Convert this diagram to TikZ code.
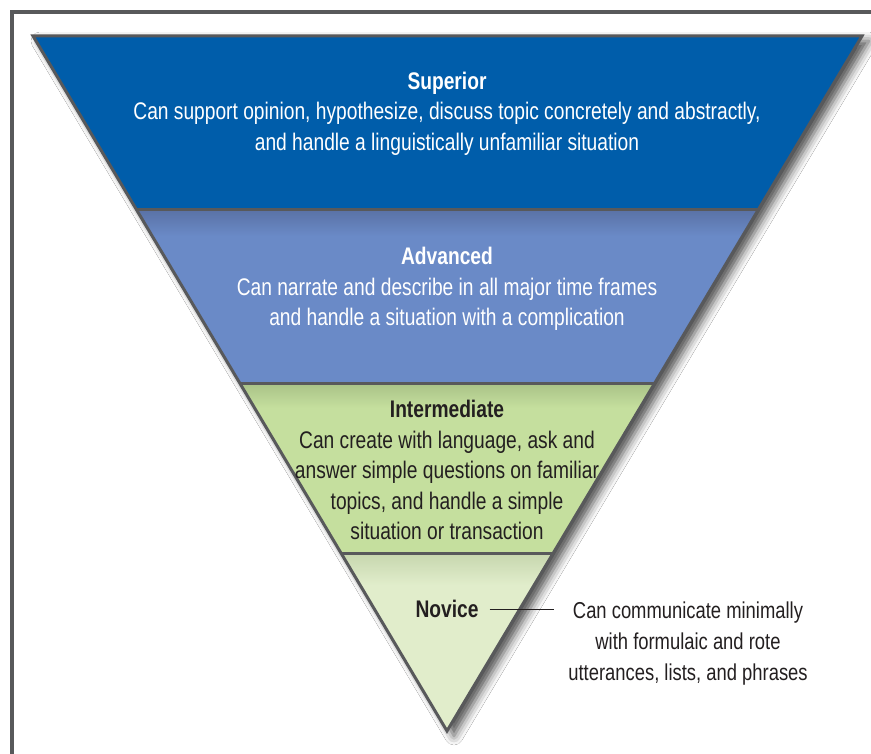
\documentclass[tikz,border=0pt]{standalone}
\usepackage{fontspec}
\setmainfont{Liberation Sans}[FakeStretch=0.8]
\usetikzlibrary{shadows.blur}
\definecolor{framegray}{HTML}{58595B}
\definecolor{supblue}{HTML}{005DAA}
\definecolor{advblue}{HTML}{6A8AC7}
\definecolor{advtop}{HTML}{5A72A6}
\definecolor{intgreen}{HTML}{C5DF9E}
\definecolor{inttop}{HTML}{A9C287}
\definecolor{novgreen}{HTML}{E1EDCB}
\definecolor{novtop}{HTML}{C6D6AE}
\definecolor{txtdark}{HTML}{231F20}
\tikzset{
  bandtext/.style={align=center, font=\fontsize{24}{30.5}\selectfont, inner sep=0pt},
  outline/.style={draw=framegray, line width=3pt, line join=miter},
  sep/.style={draw=framegray, line width=3pt},
  framestyle/.style={draw=framegray, line width=4pt},
}
\begin{document}
\begin{tikzpicture}[x=1pt,y=-1pt]
\useasboundingbox (0,0) rectangle (871,754);
\fill[white] (0,0) rectangle (871,754);
% frame (left and top)
\draw[framestyle] (12,754) -- (12,12) -- (871,12);
% corner coordinates
\coordinate (TL) at (33,36);
\coordinate (TR) at (862,36);
\coordinate (B) at (447,731);
\coordinate (L1) at (136.7,210); \coordinate (R1) at (757.6,210);
\coordinate (L2) at (240,383);   \coordinate (R2) at (654.3,383);
\coordinate (L3) at (341.2,553); \coordinate (R3) at (552.7,553);
% shadow
\fill[white, blur shadow={shadow xshift=7pt, shadow yshift=-5pt, shadow blur radius=9pt, shadow opacity=70}] (TL) -- (TR) -- (B) -- cycle;
% bands
\fill[supblue] (TL) -- (TR) -- (R1) -- (L1) -- cycle;
\begin{scope}
  \clip (L1) -- (R1) -- (R2) -- (L2) -- cycle;
  \fill[advblue] (0,210) rectangle (871,383);
  \shade[top color=advtop, bottom color=advblue] (0,210) rectangle (871,236);
\end{scope}
\begin{scope}
  \clip (L2) -- (R2) -- (R3) -- (L3) -- cycle;
  \fill[intgreen] (0,383) rectangle (871,553);
  \shade[top color=inttop, bottom color=intgreen] (0,383) rectangle (871,408);
\end{scope}
\begin{scope}
  \clip (L3) -- (R3) -- (B) -- cycle;
  \fill[novgreen] (0,553) rectangle (871,731);
  \shade[top color=novtop, bottom color=novgreen] (0,553) rectangle (871,585);
\end{scope}
% separators and outline
\draw[sep] (L1) -- (R1);
\draw[sep] (L2) -- (R2);
\draw[sep] (L3) -- (R3);
\draw[outline] (TL) -- (TR) -- (B) -- cycle;
% texts
\node[bandtext, text=white] (sup) at (447,113.5) {\textbf{Superior}\\Can support opinion, hypothesize, discuss topic concretely and abstractly,\\and handle a linguistically unfamiliar situation};
\node[bandtext, text=white] (adv) at (447,289) {\textbf{Advanced}\\Can narrate and describe in all major time frames\\and handle a situation with a complication};
\node[bandtext, text=txtdark] (int) at (447,470) {\textbf{Intermediate}\\Can create with language, ask and\\answer simple questions on familiar\\topics, and handle a simple\\situation or transaction};
\node[bandtext, text=txtdark] (nov) at (447,609) {\textbf{Novice}};
\node[bandtext, text=txtdark, font=\fontsize{23}{31}\selectfont] (desc) at (688,644) {Can communicate minimally\\with formulaic and rote\\utterances, lists, and phrases};
\draw[txtdark, line width=0.8pt] ([xshift=11pt]nov.east) -- ([xshift=-14pt]desc.west |- nov.east);
\end{tikzpicture}
\end{document}
